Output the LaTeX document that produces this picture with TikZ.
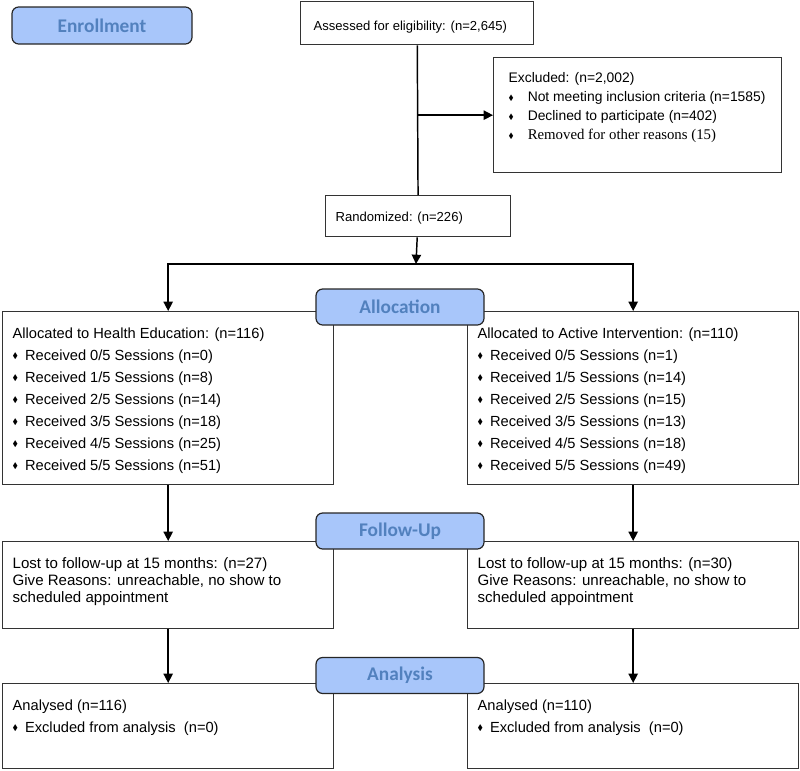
\documentclass[tikz,border=0pt]{standalone}
\usepackage{amssymb}
\usepackage{fontspec}
\setmainfont{Liberation Sans}
\newfontfamily\stagefont{Carlito}
\newfontfamily\oldserif{Liberation Serif}
\usetikzlibrary{arrows.meta,positioning}
\definecolor{stagefill}{RGB}{168,198,250}
\definecolor{stagetext}{RGB}{82,129,190}
\newlength\px
\setlength\px{0.75pt}
% small diamond bullet
\newcommand{\dmd}{\raisebox{0.2ex}{\scalebox{0.55}{$\blacklozenge$}}}
% font size (pt), line spacing (px)
\newcommand{\lines}[2]{\fontsize{#1}{#2\px}\selectfont}
% width, height, top gap, text (all in px)
\newcommand{\boxtext}[4]{\parbox[c][#2\px][t]{#1\px}{\raggedright\leftskip=10\px\parindent=0pt\vspace*{#3\px}#4}}
\tikzset{
  flowbox/.style={draw=black!80, line width=1pt, anchor=north west, inner sep=0pt},
  stage/.style={draw=black!85, line width=0.9pt, fill=stagefill, rounded corners=5pt,
    minimum width=168*0.75pt, minimum height=36*0.75pt, inner sep=0pt,
    text=stagetext, font=\stagefont\bfseries\fontsize{14.5}{17}\selectfont},
  flow/.style={line width=1.1pt, -{Triangle[length=7pt,width=7pt]}},
  line/.style={line width=1.1pt}
}
\begin{document}
\begin{tikzpicture}[x=0.75pt,y=-0.75pt]
\useasboundingbox (0,0) rectangle (800,771);
% boxes
\node[flowbox] (assess) at (300,1) {\boxtext{233}{43}{19}{\lines{9.8}{17}\advance\leftskip 3\px Assessed for eligibility: (n=2,645)}};
\node[flowbox] (excl) at (493,57) {\boxtext{288}{115}{15}{\lines{10.4}{19}\advance\leftskip 5\px Excluded: (n=2,002)\\
\dmd\hspace{14\px}Not meeting inclusion criteria (n=1585)\\
\dmd\hspace{14\px}Declined to participate (n=402)\\
\dmd\hspace{14\px}{\oldserif\fontsize{11.1}{19\px}\selectfont Removed for other reasons (15)}}};
\node[flowbox] (rand) at (325,195) {\boxtext{185}{41}{16}{\lines{9.8}{17}Randomized: (n=226)}};
\node[flowbox] (hedu) at (2,311) {\boxtext{331}{173}{16}{\lines{11}{22}Allocated to Health Education: (n=116)\\
\dmd\hspace{7\px}Received 0/5 Sessions (n=0)\\
\dmd\hspace{7\px}Received 1/5 Sessions (n=8)\\
\dmd\hspace{7\px}Received 2/5 Sessions (n=14)\\
\dmd\hspace{7\px}Received 3/5 Sessions (n=18)\\
\dmd\hspace{7\px}Received 4/5 Sessions (n=25)\\
\dmd\hspace{7\px}Received 5/5 Sessions (n=51)}};
\node[flowbox] (active) at (467,311) {\boxtext{331}{173}{16}{\lines{11}{22}Allocated to Active Intervention: (n=110)\\
\dmd\hspace{7\px}Received 0/5 Sessions (n=1)\\
\dmd\hspace{7\px}Received 1/5 Sessions (n=14)\\
\dmd\hspace{7\px}Received 2/5 Sessions (n=15)\\
\dmd\hspace{7\px}Received 3/5 Sessions (n=13)\\
\dmd\hspace{7\px}Received 4/5 Sessions (n=18)\\
\dmd\hspace{7\px}Received 5/5 Sessions (n=49)}};
\node[flowbox] (lostL) at (2,541) {\boxtext{331}{87}{16}{\lines{11.3}{17}Lost to follow-up at 15 months: (n=27)\\
Give Reasons: unreachable, no show to\\ scheduled appointment}};
\node[flowbox] (lostR) at (467,541) {\boxtext{331}{87}{16}{\lines{11.3}{17}Lost to follow-up at 15 months: (n=30)\\
Give Reasons: unreachable, no show to\\ scheduled appointment}};
\node[flowbox] (anaL) at (2,683) {\boxtext{331}{85}{16}{\lines{11}{22}Analysed (n=116)\\
\dmd\hspace{7\px}Excluded from analysis\ \ (n=0)}};
\node[flowbox] (anaR) at (467,683) {\boxtext{331}{85}{16}{\lines{11}{22}Analysed (n=110)\\
\dmd\hspace{7\px}Excluded from analysis\ \ (n=0)}};
% connectors
\coordinate (split) at (416,264);
\draw[line] (assess) -- (rand);
\draw[flow] (assess.south |- excl.west) -- (excl.west);
\draw[flow] (rand) -- (split);
\draw[flow] (split) -| (hedu.north);
\draw[flow] (split) -| (active.north);
\draw[flow] (hedu) -- (lostL);
\draw[flow] (active) -- (lostR);
\draw[flow] (lostL) -- (anaL);
\draw[flow] (lostR) -- (anaR);
% stage labels
\node[stage, minimum width=180*0.75pt, minimum height=37*0.75pt] (enroll) at (102,25.5) {Enrollment};
\node[stage] (alloc) at (400,307) {Allocation};
\node[stage] (follow) at (400,531) {Follow-Up};
\node[stage] (analysis) at (400,675.5) {Analysis};
\end{tikzpicture}
\end{document}
